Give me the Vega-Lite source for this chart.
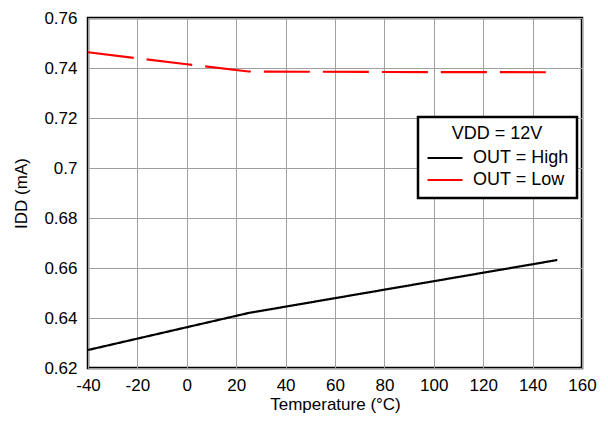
{
  "$schema": "https://vega.github.io/schema/vega-lite/v6.json",
  "width": 494,
  "height": 350,
  "autosize": {"type": "none"},
  "padding": {"left": 88, "top": 18, "right": 26, "bottom": 53},
  "background": "white",
  "config": {
    "font": "Liberation Sans",
    "view": {"stroke": "black", "strokeWidth": 2.5},
    "axis": {
      "grid": true,
      "gridColor": "#a0a0a0",
      "gridWidth": 1,
      "domain": false,
      "ticks": false,
      "labelFlush": false,
      "labelOverlap": false,
      "labelFont": "Liberation Sans",
      "labelFontSize": 17,
      "labelColor": "black",
      "titleFont": "Liberation Sans",
      "titleFontSize": 17,
      "titleFontWeight": "normal",
      "titleColor": "black"
    }
  },
  "data": {
    "values": [
      {"t": -40, "idd": 0.6272, "series": "OUT = High"},
      {"t": 25, "idd": 0.6420, "series": "OUT = High"},
      {"t": 150, "idd": 0.6632, "series": "OUT = High"},
      {"t": -40, "idd": 0.7463, "series": "OUT = Low"},
      {"t": 0, "idd": 0.7415, "series": "OUT = Low"},
      {"t": 25, "idd": 0.7386, "series": "OUT = Low"},
      {"t": 80, "idd": 0.7384, "series": "OUT = Low"},
      {"t": 150, "idd": 0.7383, "series": "OUT = Low"}
    ]
  },
  "mark": {"type": "line", "strokeWidth": 2.2},
  "encoding": {
    "x": {
      "field": "t",
      "type": "quantitative",
      "scale": {"domain": [-40, 160], "nice": false, "zero": false},
      "axis": {"values": [-40, -20, 0, 20, 40, 60, 80, 100, 120, 140, 160], "labelExpr": "replace(datum.label, '−', '-')", "title": "Temperature (°C)", "labelPadding": 9, "titlePadding": 3}
    },
    "y": {
      "field": "idd",
      "type": "quantitative",
      "scale": {"domain": [0.62, 0.76], "nice": false, "zero": false},
      "axis": {"values": [0.62, 0.64, 0.66, 0.68, 0.7, 0.72, 0.74, 0.76], "format": ".2~f", "title": "IDD (mA)", "labelPadding": 11, "titlePadding": 13}
    },
    "color": {
      "field": "series",
      "type": "nominal",
      "scale": {"domain": ["OUT = High", "OUT = Low"], "range": ["black", "#ff0000"]},
      "legend": {
        "orient": "none",
        "legendX": 330,
        "legendY": 99,
        "title": "VDD = 12V",
        "titleFontSize": 18,
        "titleFontWeight": "normal",
        "titleColor": "black",
        "titleAnchor": "middle",
        "titleAlign": "center",
        "titlePadding": 5,
        "labelFontSize": 18,
        "labelColor": "black",
        "labelOffset": 9,
        "symbolType": "stroke",
        "symbolSize": 1225,
        "symbolStrokeWidth": 2.2,
        "clipHeight": 20,
        "rowPadding": 2,
        "strokeColor": "black",
        "padding": 8,
        "fillColor": "white",
        "encode": {"legend": {"update": {"strokeWidth": {"value": 2.5}}}}
      }
    },
    "strokeDash": {
      "field": "series",
      "type": "nominal",
      "scale": {"domain": ["OUT = High", "OUT = Low"], "range": [[1, 0], [46, 13]]},
      "legend": null
    }
  }
}
